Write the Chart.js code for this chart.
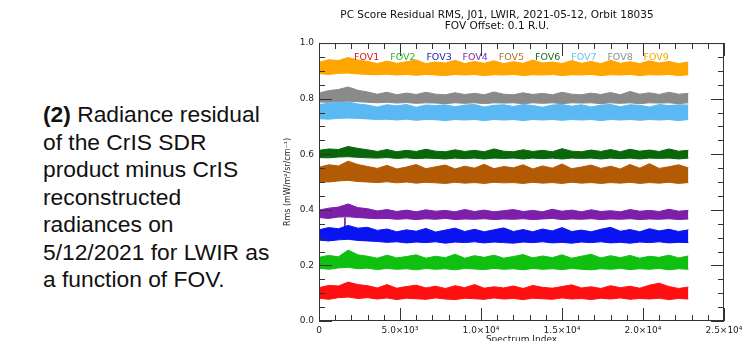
<!DOCTYPE html>
<html>
<head>
<meta charset="utf-8">
<script src="https://cdn.jsdelivr.net/npm/chart.js@4.4.0/dist/chart.umd.min.js"></script>
<style>
  html, body { margin: 0; padding: 0; background: #fff; overflow: hidden; width: 743px; height: 341px; }
  #caption { position: absolute; left: 43px; top: 101px; font-family: "Liberation Sans", Arial, sans-serif; font-size: 22.8px; line-height: 27.5px; color: #111; white-space: nowrap; }
  #wrap { position: absolute; left: 270px; top: 0; width: 500px; height: 352px; }
</style>
</head>
<body>
<div id="caption"><b>(2)</b> Radiance residual<br>of the CrIS SDR<br>product minus CrIS<br>reconstructed<br>radiances on<br>5/12/2021 for LWIR as<br>a function of FOV.</div>
<div id="wrap"><canvas id="rmsChart"></canvas></div>
<script>
// spectrum index samples (x)
const spectrumIndex = [0, 600, 1200, 1800, 2400, 3000, 3600, 4200, 4800, 5400,
  6000, 6600, 7200, 7800, 8400, 9000, 9600, 10200, 10800, 11400,
  12000, 12600, 13200, 13800, 14400, 15000, 15600, 16200, 16800, 17400,
  18000, 18600, 19200, 19800, 20400, 21000, 21600, 22200, 22800];

const fovNames = ["FOV1", "FOV2", "FOV3", "FOV4", "FOV5", "FOV6", "FOV7", "FOV8", "FOV9"];
const fovColors = ["#ff1010", "#10c010", "#0a14f0", "#7d1fa8", "#b35a05", "#0a660a", "#5ab8f2", "#8a8a8a", "#ffa500"];
const legendColors = ["#dd1818", "#2ab52a", "#1c2aa8", "#7a2aa6", "#b8702a", "#1a6a1a", "#6cc0ee", "#8c8c8c", "#f5a800"];

// upper / lower edge of each noisy RMS band (offset included)
const fov1Top = [0.120, 0.128, 0.126, 0.140, 0.131, 0.127, 0.119, 0.131, 0.118, 0.124,
  0.129, 0.119, 0.125, 0.117, 0.127, 0.120, 0.131, 0.118, 0.123, 0.119,
  0.126, 0.117, 0.128, 0.121, 0.118, 0.124, 0.130, 0.119, 0.123, 0.117,
  0.127, 0.120, 0.125, 0.118, 0.129, 0.136, 0.124, 0.117, 0.122];
const fov1Bottom = [0.082, 0.078, 0.084, 0.086, 0.081, 0.084, 0.079, 0.083, 0.077, 0.082,
  0.080, 0.078, 0.083, 0.079, 0.077, 0.082, 0.080, 0.078, 0.083, 0.079,
  0.081, 0.077, 0.082, 0.080, 0.078, 0.083, 0.079, 0.081, 0.077, 0.082,
  0.079, 0.083, 0.078, 0.081, 0.079, 0.082, 0.077, 0.081, 0.079];

const fov2Top = [0.229, 0.236, 0.231, 0.255, 0.238, 0.233, 0.226, 0.237, 0.227, 0.232,
  0.238, 0.226, 0.233, 0.228, 0.240, 0.226, 0.235, 0.229, 0.237, 0.226,
  0.232, 0.239, 0.227, 0.234, 0.228, 0.238, 0.226, 0.233, 0.240, 0.227,
  0.235, 0.228, 0.236, 0.226, 0.233, 0.229, 0.237, 0.227, 0.234];
const fov2Bottom = [0.190, 0.186, 0.191, 0.193, 0.188, 0.190, 0.185, 0.189, 0.186, 0.188,
  0.184, 0.189, 0.186, 0.188, 0.184, 0.189, 0.187, 0.185, 0.189, 0.186,
  0.188, 0.184, 0.189, 0.186, 0.188, 0.185, 0.189, 0.186, 0.184, 0.188,
  0.186, 0.189, 0.185, 0.188, 0.186, 0.189, 0.184, 0.188, 0.186];

const fov3Top = [0.328, 0.336, 0.332, 0.344, 0.334, 0.337, 0.326, 0.331, 0.321, 0.328,
  0.323, 0.333, 0.320, 0.327, 0.334, 0.322, 0.330, 0.321, 0.328, 0.335,
  0.322, 0.329, 0.321, 0.331, 0.324, 0.336, 0.322, 0.327, 0.321, 0.330,
  0.337, 0.323, 0.329, 0.321, 0.332, 0.324, 0.330, 0.322, 0.328];
const fov3Bottom = [0.291, 0.288, 0.292, 0.294, 0.290, 0.288, 0.286, 0.283, 0.285, 0.281,
  0.284, 0.282, 0.285, 0.280, 0.284, 0.282, 0.285, 0.281, 0.284, 0.282,
  0.280, 0.284, 0.282, 0.285, 0.281, 0.283, 0.280, 0.284, 0.282, 0.285,
  0.281, 0.283, 0.280, 0.284, 0.282, 0.285, 0.281, 0.283, 0.282];

const fov4Top = [0.399, 0.406, 0.410, 0.421, 0.408, 0.404, 0.396, 0.401, 0.394, 0.399,
  0.393, 0.400, 0.395, 0.398, 0.393, 0.401, 0.394, 0.399, 0.393, 0.397,
  0.401, 0.394, 0.398, 0.393, 0.402, 0.395, 0.399, 0.393, 0.400, 0.394,
  0.397, 0.393, 0.401, 0.395, 0.398, 0.394, 0.402, 0.395, 0.398];
const fov4Bottom = [0.372, 0.369, 0.374, 0.375, 0.372, 0.370, 0.368, 0.369, 0.366, 0.368,
  0.365, 0.368, 0.366, 0.369, 0.365, 0.367, 0.366, 0.368, 0.365, 0.367,
  0.366, 0.368, 0.365, 0.367, 0.369, 0.365, 0.367, 0.366, 0.368, 0.365,
  0.367, 0.366, 0.368, 0.365, 0.367, 0.366, 0.368, 0.365, 0.367];
// single downward spike in FOV4
const fov4DipIndex = 1600;
const fov4Dip = [0.372, 0.335];

const fov5Top = [0.553, 0.562, 0.558, 0.575, 0.563, 0.556, 0.549, 0.560, 0.547, 0.554,
  0.563, 0.548, 0.555, 0.561, 0.547, 0.557, 0.550, 0.564, 0.548, 0.556,
  0.551, 0.562, 0.547, 0.558, 0.550, 0.565, 0.548, 0.554, 0.561, 0.549,
  0.557, 0.547, 0.563, 0.550, 0.566, 0.549, 0.555, 0.562, 0.551];
const fov5Bottom = [0.502, 0.500, 0.504, 0.506, 0.502, 0.500, 0.498, 0.501, 0.497, 0.500,
  0.496, 0.499, 0.497, 0.495, 0.499, 0.496, 0.498, 0.495, 0.499, 0.497,
  0.498, 0.495, 0.499, 0.496, 0.498, 0.495, 0.499, 0.496, 0.498, 0.495,
  0.498, 0.496, 0.499, 0.495, 0.498, 0.496, 0.499, 0.495, 0.498];

const fov6Top = [0.614, 0.619, 0.617, 0.628, 0.621, 0.616, 0.610, 0.617, 0.609, 0.614,
  0.610, 0.618, 0.611, 0.609, 0.616, 0.610, 0.614, 0.609, 0.619, 0.611,
  0.609, 0.616, 0.610, 0.614, 0.609, 0.620, 0.611, 0.609, 0.615, 0.610,
  0.617, 0.609, 0.618, 0.611, 0.615, 0.610, 0.619, 0.611, 0.614];
const fov6Bottom = [0.588, 0.587, 0.590, 0.591, 0.589, 0.587, 0.586, 0.588, 0.585, 0.587,
  0.584, 0.586, 0.585, 0.583, 0.586, 0.584, 0.586, 0.583, 0.586, 0.585,
  0.586, 0.583, 0.586, 0.584, 0.586, 0.583, 0.586, 0.585, 0.586, 0.583,
  0.586, 0.584, 0.586, 0.583, 0.586, 0.585, 0.586, 0.583, 0.586];

const fov7Top = [0.779, 0.783, 0.786, 0.788, 0.781, 0.777, 0.770, 0.778, 0.774, 0.779,
  0.769, 0.777, 0.775, 0.778, 0.771, 0.777, 0.779, 0.770, 0.776, 0.778,
  0.772, 0.779, 0.775, 0.769, 0.777, 0.779, 0.773, 0.778, 0.770, 0.777,
  0.779, 0.771, 0.778, 0.776, 0.770, 0.779, 0.775, 0.778, 0.777];
const fov7Bottom = [0.728, 0.726, 0.729, 0.730, 0.729, 0.727, 0.725, 0.726, 0.723, 0.726,
  0.722, 0.725, 0.724, 0.721, 0.725, 0.723, 0.725, 0.721, 0.725, 0.723,
  0.725, 0.721, 0.725, 0.723, 0.725, 0.722, 0.725, 0.723, 0.725, 0.721,
  0.725, 0.723, 0.725, 0.722, 0.725, 0.723, 0.725, 0.721, 0.725];

const fov8Top = [0.820, 0.829, 0.833, 0.842, 0.830, 0.824, 0.816, 0.823, 0.814, 0.820,
  0.815, 0.823, 0.816, 0.814, 0.821, 0.815, 0.819, 0.814, 0.824, 0.816,
  0.814, 0.821, 0.815, 0.819, 0.814, 0.823, 0.816, 0.814, 0.820, 0.815,
  0.822, 0.814, 0.826, 0.816, 0.821, 0.815, 0.823, 0.816, 0.819];
const fov8Bottom = [0.788, 0.787, 0.789, 0.791, 0.789, 0.787, 0.785, 0.787, 0.784, 0.786,
  0.783, 0.785, 0.784, 0.782, 0.785, 0.783, 0.785, 0.782, 0.785, 0.784,
  0.785, 0.782, 0.785, 0.783, 0.785, 0.782, 0.785, 0.784, 0.785, 0.782,
  0.785, 0.783, 0.785, 0.782, 0.785, 0.784, 0.785, 0.782, 0.785];

const fov9Top = [0.931, 0.940, 0.937, 0.948, 0.939, 0.934, 0.926, 0.935, 0.927, 0.933,
  0.939, 0.926, 0.932, 0.928, 0.938, 0.926, 0.934, 0.927, 0.936, 0.926,
  0.933, 0.927, 0.939, 0.928, 0.932, 0.926, 0.937, 0.927, 0.934, 0.926,
  0.938, 0.927, 0.933, 0.926, 0.936, 0.928, 0.934, 0.926, 0.932];
const fov9Bottom = [0.890, 0.887, 0.891, 0.892, 0.889, 0.887, 0.886, 0.888, 0.885, 0.887,
  0.884, 0.887, 0.885, 0.883, 0.887, 0.885, 0.887, 0.883, 0.886, 0.885,
  0.887, 0.883, 0.886, 0.885, 0.887, 0.883, 0.886, 0.885, 0.887, 0.883,
  0.886, 0.885, 0.887, 0.883, 0.886, 0.885, 0.887, 0.883, 0.886];

const fovTops = [fov1Top, fov2Top, fov3Top, fov4Top, fov5Top, fov6Top, fov7Top, fov8Top, fov9Top];
const fovBottoms = [fov1Bottom, fov2Bottom, fov3Bottom, fov4Bottom, fov5Bottom, fov6Bottom, fov7Bottom, fov8Bottom, fov9Bottom];

// axis ticks
const xTicks = [0, 5000, 10000, 15000, 20000, 25000];
const xTickLabels = ["0", "5.0×10³", "1.0×10⁴", "1.5×10⁴", "2.0×10⁴", "2.5×10⁴"];
const yTicks = [0, 0.2, 0.4, 0.6, 0.8, 1.0];

const FONT = "'DejaVu Sans', sans-serif";

// build datasets: top edge filled down to bottom edge
const datasets = [];
fovNames.forEach((name, i) => {
  datasets.push({
    label: name,
    data: spectrumIndex.map((x, k) => ({ x: x, y: fovTops[i][k] })),
    borderColor: fovColors[i],
    backgroundColor: fovColors[i],
    borderWidth: 1,
    pointRadius: 0,
    fill: "+1"
  });
  datasets.push({
    label: name + " low",
    data: spectrumIndex.map((x, k) => ({ x: x, y: fovBottoms[i][k] })),
    borderColor: fovColors[i],
    borderWidth: 1,
    pointRadius: 0,
    fill: false
  });
});
datasets.push({
  label: "FOV4 spike",
  data: fov4Dip.map(v => ({ x: fov4DipIndex, y: v })),
  borderColor: fovColors[3],
  borderWidth: 1,
  pointRadius: 0,
  fill: false
});

// box with inward major/minor ticks on all four sides
const framePlugin = {
  id: "frame",
  afterDatasetsDraw(chart) {
    const { ctx, chartArea: a, scales: { x, y } } = chart;
    ctx.save();
    ctx.strokeStyle = "#333";
    ctx.lineWidth = 1;
    ctx.strokeRect(a.left + 0.5, a.top + 0.5, a.width - 1, a.height - 1);
    ctx.beginPath();
    for (let v = 0; v <= 25000; v += 1000) {
      const px = Math.round(x.getPixelForValue(v)) + 0.5;
      const len = v % 5000 === 0 ? 13 : 6;
      ctx.moveTo(px, a.bottom); ctx.lineTo(px, a.bottom - len);
      ctx.moveTo(px, a.top); ctx.lineTo(px, a.top + len);
    }
    for (let k = 0; k <= 20; k++) {
      const py = Math.round(y.getPixelForValue(k * 0.05)) + 0.5;
      const len = k % 4 === 0 ? 13 : 6;
      ctx.moveTo(a.left, py); ctx.lineTo(a.left + len, py);
      ctx.moveTo(a.right, py); ctx.lineTo(a.right - len, py);
    }
    ctx.stroke();
    ctx.restore();
  }
};

// coloured FOV names across the top of the plot
const fovLabelPlugin = {
  id: "fovLabels",
  afterDatasetsDraw(chart) {
    const { ctx, chartArea: a } = chart;
    ctx.save();
    ctx.font = "9.5px " + FONT;
    ctx.textAlign = "left";
    ctx.textBaseline = "middle";
    fovNames.forEach((name, i) => {
      ctx.fillStyle = legendColors[i];
      ctx.fillText(name, a.left + 35 + i * 36.2, a.top + 14);
    });
    ctx.restore();
  }
};

new Chart(document.getElementById("rmsChart"), {
  type: "line",
  data: { datasets: datasets },
  plugins: [framePlugin, fovLabelPlugin],
  options: {
    responsive: true,
    maintainAspectRatio: false,
    animation: false,
    layout: { padding: { left: 0, right: 46, top: 0, bottom: 0 } },
    plugins: {
      legend: { display: false },
      tooltip: { enabled: false },
      title: {
        display: true,
        text: ["PC Score Residual RMS, J01, LWIR, 2021-05-12, Orbit 18035", "FOV Offset: 0.1 R.U."],
        color: "#111",
        font: { family: FONT, size: 10.5, weight: "normal", lineHeight: 1.05 },
        padding: { top: 9.5, bottom: 11.5 }
      }
    },
    scales: {
      x: {
        type: "linear",
        min: 0,
        max: 25000,
        grid: { display: false, drawTicks: false },
        border: { display: false },
        afterBuildTicks: s => { s.ticks = xTicks.map(v => ({ value: v })); },
        afterFit: s => { s.height = 31; },
        ticks: {
          color: "#222",
          font: { family: FONT, size: 9 },
          padding: 4,
          maxRotation: 0,
          autoSkip: false,
          callback: v => xTickLabels[xTicks.indexOf(v)]
        },
        title: {
          display: true,
          text: "Spectrum Index",
          color: "#222",
          font: { family: FONT, size: 9 },
          padding: { top: 0, bottom: 6.6 }
        }
      },
      y: {
        min: 0,
        max: 1,
        grid: { display: false, drawTicks: false },
        border: { display: false },
        afterBuildTicks: s => { s.ticks = yTicks.map(v => ({ value: v })); },
        afterFit: s => { s.width = 49; },
        ticks: {
          color: "#222",
          font: { family: FONT, size: 9 },
          padding: 5,
          callback: v => v.toFixed(1)
        },
        title: {
          display: true,
          text: "Rms (mW/m²/sr/cm⁻¹)",
          color: "#222",
          font: { family: FONT, size: 8 },
          padding: { top: 13, bottom: 0 }
        }
      }
    }
  }
});
</script>
</body>
</html>
